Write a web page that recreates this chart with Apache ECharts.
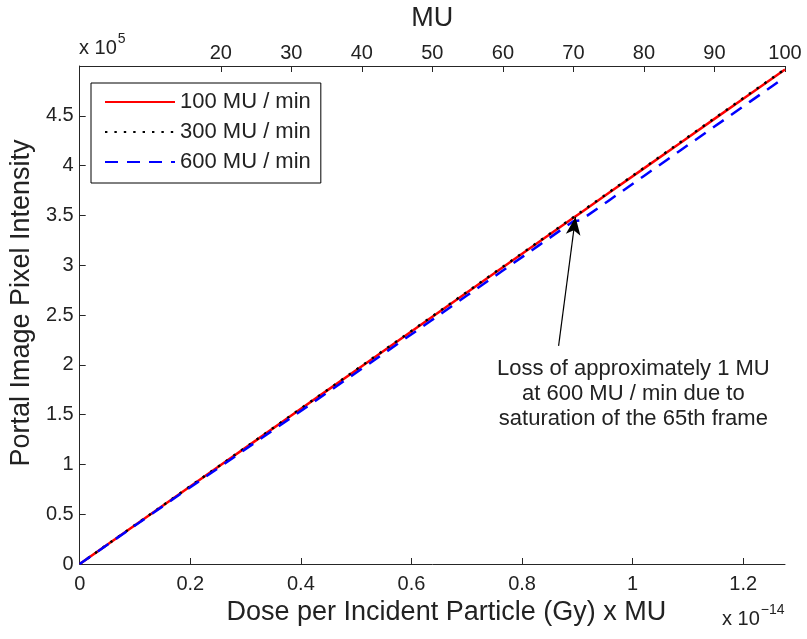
<!DOCTYPE html>
<html>
<head>
<meta charset="utf-8">
<script src="https://cdn.jsdelivr.net/npm/echarts@6/dist/echarts.min.js"></script>
<style>
html,body{margin:0;padding:0;background:#fff;}
#c{width:807px;height:639px;}
</style>
</head>
<body>
<div id="c"></div>
<script>
// ---- data ----
const muValues = [0, 5, 10, 15, 20, 25, 30, 35, 40, 45, 50, 55, 60, 65, 70, 71, 75, 80, 85, 90, 95, 100];
const rate100 = [0, 0.248, 0.497, 0.745, 0.993, 1.241, 1.490, 1.738, 1.986, 2.234, 2.483, 2.731, 2.979, 3.227, 3.476, 3.525, 3.724, 3.972, 4.220, 4.469, 4.717, 4.965];
const rate300 = [0, 0.250, 0.499, 0.748, 0.996, 1.245, 1.494, 1.742, 1.991, 2.239, 2.488, 2.736, 2.985, 3.233, 3.482, 3.531, 3.730, 3.978, 4.226, 4.475, 4.723, 4.968];
const rate600 = [0, 0.246, 0.492, 0.738, 0.980, 1.226, 1.470, 1.716, 1.960, 2.206, 2.452, 2.700, 2.946, 3.194, 3.442, 3.450, 3.648, 3.896, 4.144, 4.392, 4.640, 4.888];
const seriesNames = ['100 MU / min', '300 MU / min', '600 MU / min'];
const doseTicks = [0, 0.2, 0.4, 0.6, 0.8, 1.0, 1.2];
const muTicks = [20, 30, 40, 50, 60, 70, 80, 90, 100];
const yTicks = [0, 0.5, 1, 1.5, 2, 2.5, 3, 3.5, 4, 4.5];
const doseMax = 1.2756;   // x 10^-14 at 100 MU
const muMax = 100;
const yMax = 5;           // x 10^5
const arrowFrom = [67.9, 2.19];
const arrowTo = [70.3, 3.485];
const noteAt = [78.5, 1.71];
const noteText = 'Loss of approximately 1 MU\nat 600 MU / min due to\nsaturation of the 65th frame';

const pair = (ys) => muValues.map((m, i) => [m, ys[i]]);

const FONT = 'Liberation Sans, Arial, sans-serif';
const TXT = '#222';
const AX = '#262626';

const chart = echarts.init(document.getElementById('c'), null, {renderer: 'canvas'});
chart.setOption({
  animation: false,
  backgroundColor: '#fff',
  textStyle: {fontFamily: FONT},
  grid: {left: 78, right: 22, top: 63, bottom: 75, containLabel: false},
  xAxis: [
    {
      type: 'value', position: 'bottom', min: 0, max: doseMax,
      name: 'Dose per Incident Particle (Gy) x MU', nameLocation: 'middle', nameGap: 28,
      nameTextStyle: {fontSize: 27, color: TXT, fontFamily: FONT, padding: [0, 0, 0, 28]},
      axisLine: {show: true, onZero: false, lineStyle: {color: AX, width: 1}},
      axisTick: {show: true, inside: true, length: 6, customValues: doseTicks, lineStyle: {color: AX}},
      axisLabel: {customValues: doseTicks, fontSize: 20, color: TXT, margin: 10, fontFamily: FONT},
      splitLine: {show: false}
    },
    {
      type: 'value', position: 'top', min: 0, max: muMax,
      name: 'MU', nameLocation: 'middle', nameGap: 34,
      nameTextStyle: {fontSize: 27, color: TXT, fontFamily: FONT},
      axisLine: {show: true, onZero: false, lineStyle: {color: AX, width: 1}},
      axisTick: {show: true, inside: true, length: 6, customValues: muTicks, lineStyle: {color: AX}},
      axisLabel: {customValues: muTicks, fontSize: 20, color: TXT, margin: 3, fontFamily: FONT},
      splitLine: {show: false}
    }
  ],
  yAxis: {
    type: 'value', min: 0, max: yMax,
    name: 'Portal Image Pixel Intensity', nameLocation: 'middle', nameGap: 44,
    nameTextStyle: {fontSize: 27, color: TXT, fontFamily: FONT, padding: [0, 0, 0, 24]},
    axisLine: {show: true, onZero: false, lineStyle: {color: AX, width: 1}},
    axisTick: {show: true, inside: true, length: 6, customValues: yTicks, lineStyle: {color: AX}},
    axisLabel: {customValues: yTicks, fontSize: 20, color: TXT, margin: 6, fontFamily: FONT},
    splitLine: {show: false}
  },
  legend: {
    orient: 'vertical', left: 91, top: 83,
    data: seriesNames,
    itemWidth: 70, itemHeight: 14, itemGap: 8,
    padding: [8, 10, 10, 13],
    borderColor: '#000', borderWidth: 1, backgroundColor: '#fff',
    itemStyle: {opacity: 0},
    textStyle: {fontSize: 22, color: TXT, fontFamily: FONT, lineHeight: 22},
    selectedMode: false
  },
  series: [
    {
      name: seriesNames[0], type: 'line', xAxisIndex: 1, data: pair(rate100),
      symbol: 'none', smooth: false, z: 2,
      lineStyle: {color: '#ff0000', width: 2.5, type: 'solid'},
      itemStyle: {color: '#ff0000'}
    },
    {
      name: seriesNames[1], type: 'line', xAxisIndex: 1, data: pair(rate300),
      symbol: 'none', smooth: false, z: 3,
      lineStyle: {color: '#000000', width: 2.4, type: [2.4, 7]},
      itemStyle: {color: '#000000'}
    },
    {
      name: seriesNames[2], type: 'line', xAxisIndex: 1, data: pair(rate600),
      symbol: 'none', smooth: false, z: 4,
      lineStyle: {color: '#0000ff', width: 2.5, type: [13, 9]},
      itemStyle: {color: '#0000ff'},
      markLine: {
        silent: true, animation: false,
        symbol: ['none', 'arrow'], symbolSize: [11, 18],
        lineStyle: {color: '#000', width: 1.2, type: 'solid'},
        label: {show: false},
        data: [[{coord: arrowFrom}, {coord: arrowTo}]]
      },
      markPoint: {
        silent: true, animation: false,
        symbol: 'circle', symbolSize: 0,
        itemStyle: {color: 'transparent'},
        label: {
          show: true, position: 'inside', formatter: noteText,
          fontSize: 22, lineHeight: 25, color: TXT, align: 'center', fontFamily: FONT
        },
        data: [{coord: noteAt}]
      }
    }
  ],
  graphic: [
    {
      type: 'text', left: 79, top: 32,
      style: {
        text: '{b|x 10}{s|5}',
        rich: {
          b: {fontSize: 20, fill: TXT, fontFamily: FONT, verticalAlign: 'bottom', lineHeight: 26},
          s: {fontSize: 14, fill: TXT, fontFamily: FONT, verticalAlign: 'top', lineHeight: 26, padding: [0, 0, 10, 1]}
        }
      }
    },
    {
      type: 'text', left: 722, top: 603,
      style: {
        text: '{b|x 10}{s|\u221214}',
        rich: {
          b: {fontSize: 20, fill: TXT, fontFamily: FONT, verticalAlign: 'bottom', lineHeight: 26},
          s: {fontSize: 14, fill: TXT, fontFamily: FONT, verticalAlign: 'top', lineHeight: 26, padding: [0, 0, 10, 1]}
        }
      }
    }
  ]
});
</script>
</body>
</html>
